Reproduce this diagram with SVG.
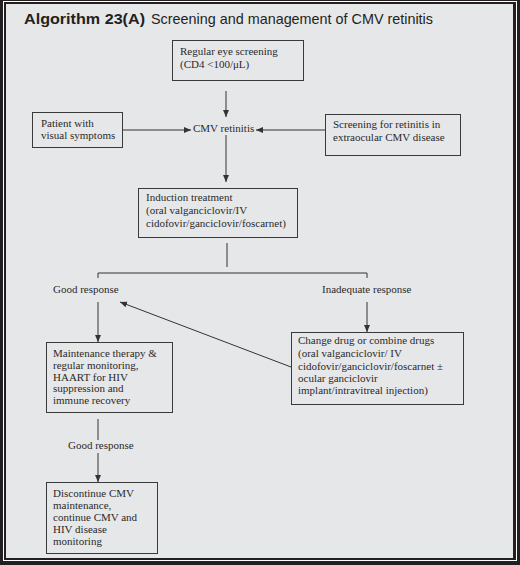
<svg xmlns="http://www.w3.org/2000/svg" width="520" height="565" viewBox="0 0 520 565">
<style>
.box{fill:none;stroke:#3a3a3a;stroke-width:1}
.t{font-family:"Liberation Serif","Times New Roman",serif;font-size:11px;fill:#2a2a2a}
.ln{stroke:#333;stroke-width:1;fill:none}
</style>
<defs>
<marker id="ah" markerWidth="8" markerHeight="8" refX="7" refY="4" orient="auto" markerUnits="userSpaceOnUse">
<path d="M0,1 L7,4 L0,7 Z" fill="#333"/>
</marker>
</defs>
<rect x="0" y="0" width="520" height="565" fill="#231f20"/>
<rect x="3.5" y="1.5" width="513" height="559" fill="none" stroke="#ffffff" stroke-width="1"/>
<rect x="6" y="4" width="507" height="554" fill="#e6e7e9"/>
<text x="24" y="24" font-family="'Liberation Sans',Arial,sans-serif" font-size="15" fill="#231f20"><tspan font-weight="bold" textLength="121" lengthAdjust="spacingAndGlyphs">Algorithm 23(A)</tspan><tspan x="151" textLength="282" lengthAdjust="spacingAndGlyphs">Screening and management of CMV retinitis</tspan></text>

<g id="connectors">
<line class="ln" x1="226" y1="91" x2="226" y2="117" marker-end="url(#ah)"/>
<line class="ln" x1="122" y1="130" x2="191" y2="130" marker-end="url(#ah)"/>
<line class="ln" x1="325" y1="130" x2="256" y2="130" marker-end="url(#ah)"/>
<line class="ln" x1="226" y1="135" x2="226" y2="182" marker-end="url(#ah)"/>
<line class="ln" x1="227" y1="243" x2="227" y2="267"/>
<path class="ln" d="M98,278 V273 H367 V278"/>
<line class="ln" x1="98" y1="302" x2="98" y2="342" marker-end="url(#ah)"/>
<line class="ln" x1="367" y1="302" x2="367" y2="332" marker-end="url(#ah)"/>
<line class="ln" x1="291" y1="367" x2="120" y2="302" marker-end="url(#ah)"/>
<line class="ln" x1="98" y1="419" x2="98" y2="440"/>
<line class="ln" x1="98" y1="453" x2="98" y2="482" marker-end="url(#ah)"/>
</g>

<g id="n-screening">
<rect class="box" x="172.5" y="40.5" width="131" height="40"/>
<text class="t" x="180" y="55">Regular eye screening</text>
<text class="t" x="180" y="68">(CD4 &lt;100/μL)</text>
</g>
<g id="n-cmv">
<text class="t" x="193" y="132">CMV retinitis</text>
</g>
<g id="n-patient">
<rect class="box" x="32.5" y="112.5" width="90" height="35"/>
<text class="t" x="41" y="127">Patient with</text>
<text class="t" x="41" y="139">visual symptoms</text>
</g>
<g id="n-extra">
<rect class="box" x="325.5" y="114.5" width="135" height="41"/>
<text class="t" x="333" y="128">Screening for retinitis in</text>
<text class="t" x="333" y="141">extraocular CMV disease</text>
</g>
<g id="n-induction">
<rect class="box" x="138.5" y="188.5" width="159" height="49"/>
<text class="t" x="146" y="201">Induction treatment</text>
<text class="t" x="146" y="214">(oral valganciclovir/IV</text>
<text class="t" x="146" y="227">cidofovir/ganciclovir/foscarnet)</text>
</g>
<g id="n-good">
<text class="t" x="53" y="293">Good response</text>
</g>
<g id="n-inadequate">
<text class="t" x="322" y="293">Inadequate response</text>
</g>
<g id="n-maint">
<rect class="box" x="46.5" y="342.5" width="126" height="70"/>
<text class="t" x="53" y="357">Maintenance therapy &amp;</text>
<text class="t" x="53" y="369">regular monitoring,</text>
<text class="t" x="53" y="381">HAART for HIV</text>
<text class="t" x="53" y="392">suppression and</text>
<text class="t" x="53" y="404">immune recovery</text>
</g>
<g id="n-change">
<rect class="box" x="291.5" y="332.5" width="172" height="72"/>
<text class="t" x="298" y="344">Change drug or combine drugs</text>
<text class="t" x="298" y="357">(oral valganciclovir/ IV</text>
<text class="t" x="298" y="370">cidofovir/ganciclovir/foscarnet ±</text>
<text class="t" x="298" y="382">ocular ganciclovir</text>
<text class="t" x="298" y="394">implant/intravitreal injection)</text>
</g>
<g id="n-good2">
<text class="t" x="68" y="449">Good response</text>
</g>
<g id="n-discontinue">
<rect class="box" x="46.5" y="482.5" width="111" height="71"/>
<text class="t" x="53" y="497">Discontinue CMV</text>
<text class="t" x="53" y="509">maintenance,</text>
<text class="t" x="53" y="521">continue CMV and</text>
<text class="t" x="53" y="533">HIV disease</text>
<text class="t" x="53" y="545">monitoring</text>
</g>
</svg>
